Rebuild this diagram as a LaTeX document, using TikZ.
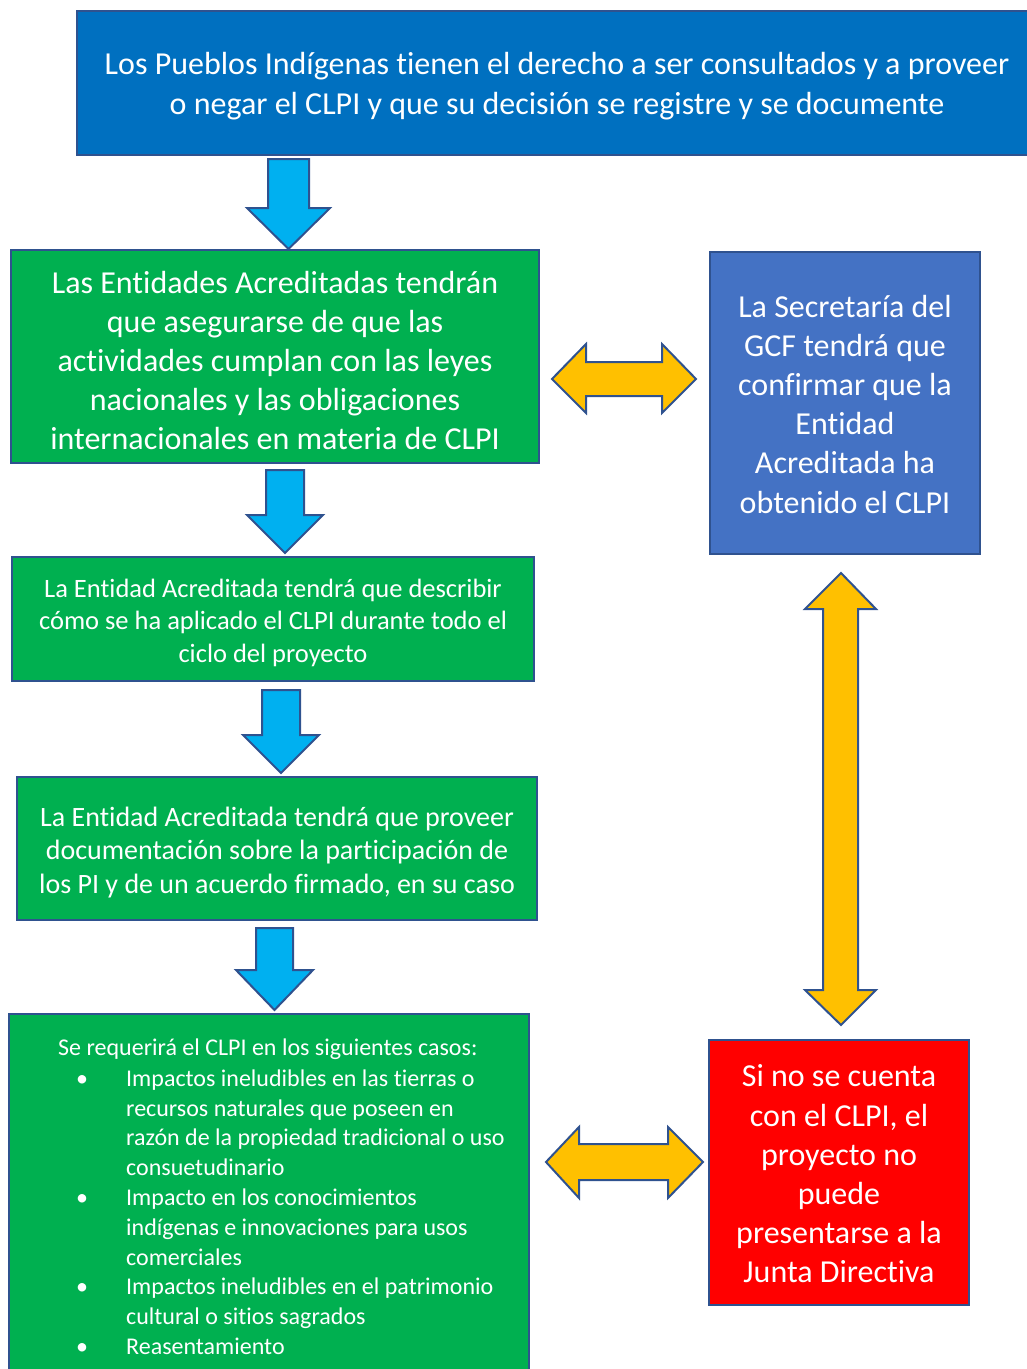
\documentclass[tikz,border=0pt]{standalone}
\usepackage{fontspec}
\setmainfont[Ligatures=NoCommon]{Carlito}
\definecolor{topblue}{HTML}{0070C0}
\definecolor{rblue}{HTML}{4472C4}
\definecolor{bgreen}{HTML}{00B050}
\definecolor{bred}{HTML}{FF0000}
\definecolor{bord}{HTML}{2F528F}
\definecolor{cyanarr}{HTML}{00B0F0}
\definecolor{yellarr}{HTML}{FFC000}
\tikzset{
  box/.style={draw=bord, line width=2pt, inner sep=0pt},
  txt/.style={text=white, align=center, inner sep=0pt},
  downarr/.style={fill=cyanarr, draw=bord, line width=2pt, line join=miter},
  dblarr/.style={fill=yellarr, draw=bord, line width=2pt, line join=miter},
}
\begin{document}
\begin{tikzpicture}[x=1pt,y=-1pt]
\useasboundingbox (0,0) rectangle (1027,1369);
\clip (0,0) rectangle (1027,1369);
% boxes
\draw[box, fill=topblue] (77,11) rectangle (1040,155);
\node[txt, font=\fontsize{32}{40}\selectfont] (t0) at (557,86.5) {Los Pueblos Indígenas tienen el derecho a ser consultados y a proveer\\o negar el CLPI y que su decisión se registre y se documente};

\draw[box, fill=bgreen] (11,250) rectangle (539,463);
\node[txt, font=\fontsize{32}{39}\selectfont] (t1) at (275,360) {Las Entidades Acreditadas tendrán\\que asegurarse de que las\\actividades cumplan con las leyes\\nacionales y las obligaciones\\internacionales en materia de CLPI};

\draw[box, fill=rblue] (710,252) rectangle (980,554);
\node[txt, font=\fontsize{32}{39.2}\selectfont] (t5) at (845,404) {La Secretaría del\\GCF tendrá que\\confirmar que la\\Entidad\\Acreditada ha\\obtenido el CLPI};

\draw[box, fill=bgreen] (12,557) rectangle (534,681);
\node[txt, font=\fontsize{26.5}{32.5}\selectfont] (t2) at (273,622.5) {La Entidad Acreditada tendrá que describir\\cómo se ha aplicado el CLPI durante todo el\\ciclo del proyecto};

\draw[box, fill=bgreen] (17,777) rectangle (537,920);
\node[txt, font=\fontsize{28}{33.5}\selectfont] (t3) at (277,852.5) {La Entidad Acreditada tendrá que proveer\\documentación sobre la participación de\\los PI y de un acuerdo firmado, en su caso};

\draw[box, fill=bgreen] (9,1014) rectangle (529,1400);
\node[txt, align=left, anchor=north west, font=\fontsize{24}{29.8}\selectfont] (t4) at (58,1034) {%
\begin{tabular}{@{}p{18pt}@{}p{50pt}@{}l@{}}
\multicolumn{3}{@{}l@{}}{Se requerirá el CLPI en los siguientes casos:}\\[1.5pt]
 & \textbullet & Impactos ineludibles en las tierras o\\
 & & recursos naturales que poseen en\\
 & & razón de la propiedad tradicional o uso\\
 & & consuetudinario\\
 & \textbullet & Impacto en los conocimientos\\
 & & indígenas e innovaciones para usos\\
 & & comerciales\\
 & \textbullet & Impactos ineludibles en el patrimonio\\
 & & cultural o sitios sagrados\\
 & \textbullet & Reasentamiento
\end{tabular}};

\draw[box, fill=bred] (709,1040) rectangle (969,1305);
\node[txt, font=\fontsize{32}{39.2}\selectfont] (t6) at (839,1174) {Si no se cuenta\\con el CLPI, el\\proyecto no\\puede\\presentarse a la\\Junta Directiva};

% down arrows
\draw[downarr] (268,159) -- (309,159) -- (309,208) -- (330,208) -- (288.5,249) -- (247,208) -- (268,208) -- cycle;
\draw[downarr] (266,470) -- (304,470) -- (304,515) -- (323,515) -- (285,553) -- (247,515) -- (266,515) -- cycle;
\draw[downarr] (262,690) -- (300,690) -- (300,735) -- (319,735) -- (281,773) -- (243,735) -- (262,735) -- cycle;
\draw[downarr] (256,928) -- (293,928) -- (293,970) -- (313,970) -- (274.5,1010) -- (236,970) -- (256,970) -- cycle;

% double arrows
\draw[dblarr] (552,379) -- (586,344) -- (586,362) -- (662,362) -- (662,344) -- (696,379) -- (662,413) -- (662,396) -- (586,396) -- (586,413) -- cycle;
\draw[dblarr] (546,1162) -- (579,1127) -- (579,1144) -- (668,1144) -- (668,1127) -- (703,1162) -- (668,1198) -- (668,1180) -- (579,1180) -- (579,1198) -- cycle;
\draw[dblarr] (841,573) -- (876,609) -- (858,609) -- (858,990) -- (876,990) -- (841,1025) -- (805,990) -- (823,990) -- (823,609) -- (805,609) -- cycle;
\end{tikzpicture}
\end{document}
